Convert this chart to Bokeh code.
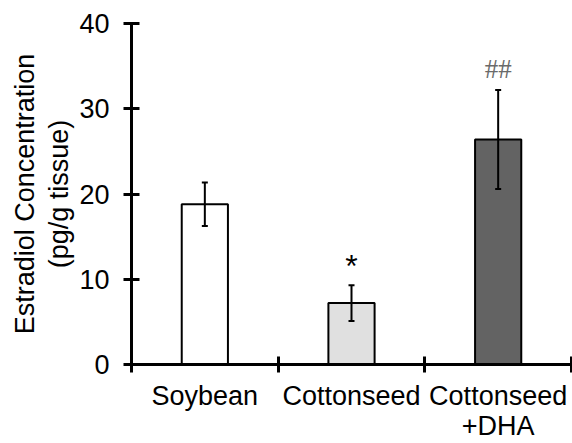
from bokeh.plotting import figure
from bokeh.models import (ColumnDataSource, FixedTicker, Range1d, Whisker, TeeHead)
from bokeh.core.properties import value
from bokeh.embed import file_html
from bokeh.resources import INLINE

# ---- data ----
categories = ["Soybean", "Cottonseed", "Cottonseed\n+DHA"]
estradiol = [18.8, 7.2, 26.4]
sem = [2.55, 2.1, 5.8]
bar_colors = ["#ffffff", "#e0e0e0", "#636363"]
annotations = ["", "*", "##"]
y_ticks = [0, 10, 20, 30, 40]

centers = [i + 0.5 for i in range(len(categories))]
FONT = "Liberation Sans"

src = ColumnDataSource(dict(
    x=centers, top=estradiol, color=bar_colors,
    upper=[v + e for v, e in zip(estradiol, sem)],
    lower=[v - e for v, e in zip(estradiol, sem)],
))

p = figure(width=572, height=443, output_backend="svg", toolbar_location=None,
           x_range=Range1d(0, len(categories)), y_range=Range1d(0, 40),
           min_border_left=131, min_border_right=1, min_border_top=23,
           min_border_bottom=0)
p.outline_line_color = None
p.xgrid.visible = False
p.ygrid.visible = False
p.background_fill_color = "white"
p.border_fill_color = "white"

p.vbar(x="x", top="top", width=0.315, source=src, fill_color="color",
       line_color="black", line_width=2)

w = Whisker(base="x", upper="upper", lower="lower", source=src,
            line_color="black", line_width=2, level="overlay",
            upper_head=TeeHead(size=6, line_width=2, line_color="black"),
            lower_head=TeeHead(size=6, line_width=2, line_color="black"))
p.add_layout(w)

# significance marks
p.text(x=[centers[1]], y=[estradiol[1] + sem[1] + 2.2], text=[annotations[1]],
       text_font=value(FONT), text_font_size="32px", text_align="center",
       text_baseline="alphabetic", text_color="black")
p.text(x=[centers[2]], y=[estradiol[2] + sem[2] + 2.5], text=[annotations[2]],
       text_font=value("Liberation Serif"), text_font_size="27px",
       text_align="center", text_baseline="alphabetic", text_color="#6a6a6a")

# y axis
ya = p.yaxis[0]
ya.ticker = FixedTicker(ticks=y_ticks)
ya.axis_line_width = 3
ya.major_tick_line_width = 3
ya.major_tick_in = 8
ya.major_tick_out = 8
ya.minor_tick_line_color = None
ya.major_label_text_font = FONT
ya.major_label_text_font_size = "27px"
ya.major_label_text_color = "black"
ya.major_label_standoff = 14
ya.axis_label = "Estradiol Concentration\n(pg/g tissue)"
ya.axis_label_text_font = FONT
ya.axis_label_text_font_size = "27px"
ya.axis_label_text_font_style = "normal"
ya.axis_label_text_color = "black"
ya.axis_label_text_line_height = 1.15
ya.axis_label_standoff = 2

# x axis: ticks at category boundaries, labels at centers
xa = p.xaxis[0]
xa.ticker = FixedTicker(ticks=centers, minor_ticks=list(range(len(categories) + 1)))
xa.major_label_overrides = {c: lab for c, lab in zip(centers, categories)}
xa.axis_line_width = 3
xa.major_tick_line_color = None
xa.major_tick_in = 0
xa.major_tick_out = 0
xa.minor_tick_line_color = "black"
xa.minor_tick_line_width = 3
xa.minor_tick_in = 8
xa.minor_tick_out = 8
xa.major_label_text_font = FONT
xa.major_label_text_font_size = "27px"
xa.major_label_text_color = "black"
xa.major_label_text_line_height = 1.0
xa.major_label_standoff = 8

open("out.html", "w").write(file_html(p, INLINE))
